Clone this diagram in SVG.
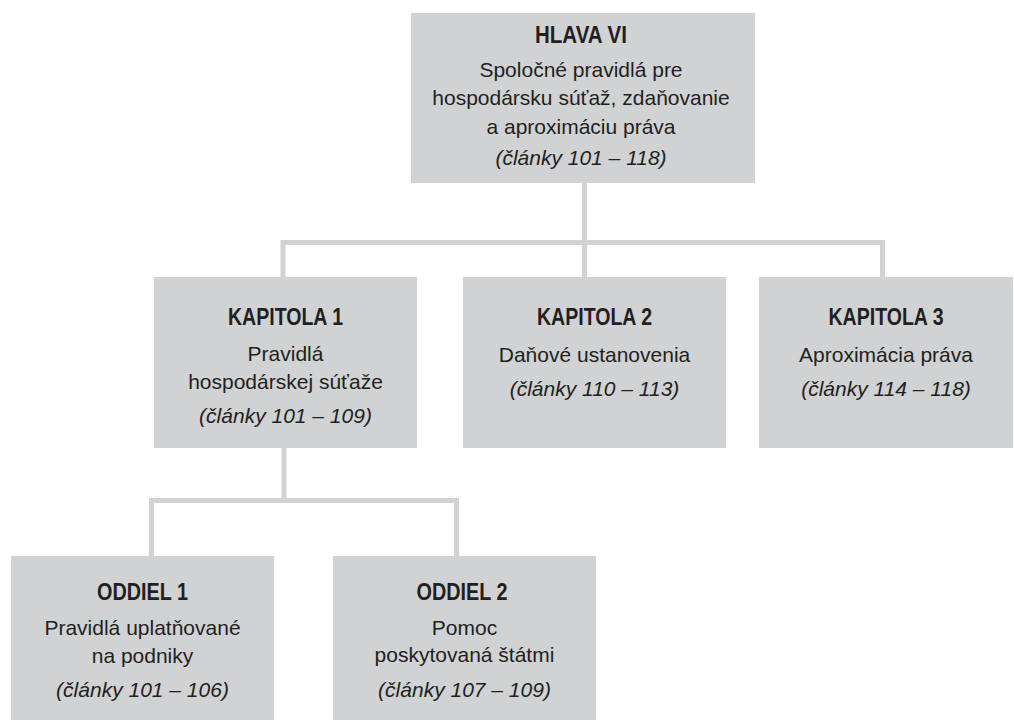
<svg xmlns="http://www.w3.org/2000/svg" width="1014" height="720" viewBox="0 0 1014 720">
<style>
.box{fill:#d1d2d4}
.conn{fill:none;stroke:#d1d2d4;stroke-width:5}
text{font-family:"Liberation Sans",Arial,sans-serif;fill:#231f20;text-anchor:middle}
.t{font-weight:bold;font-size:23.5px}
.r{font-size:21px}
.i{font-size:21px;font-style:italic}
</style>
<rect width="1014" height="720" fill="#ffffff"/>
<g id="connectors">
<path class="conn" d="M584.5 183V242.5M283 277V242.5H882.5V277M584.5 242.5V277"/>
<path class="conn" d="M284 448V500.5M151.5 556V500.5H456.5V556"/>
</g>
<g id="hlava6">
<rect class="box" x="411" y="13" width="344" height="170"/>
<text class="t" x="581" y="42.5" textLength="92" lengthAdjust="spacingAndGlyphs">HLAVA VI</text>
<text class="r" x="581" y="76.5">Spoločné pravidlá pre</text>
<text class="r" x="581" y="105">hospodársku súťaž, zdaňovanie</text>
<text class="r" x="581" y="133.5">a aproximáciu práva</text>
<text class="i" x="581" y="165">(články 101 – 118)</text>
</g>
<g id="kapitola1">
<rect class="box" x="154" y="277" width="263" height="171"/>
<text class="t" x="285.5" y="325" textLength="115" lengthAdjust="spacingAndGlyphs">KAPITOLA 1</text>
<text class="r" x="285.5" y="360.5">Pravidlá</text>
<text class="r" x="285.5" y="388.5">hospodárskej súťaže</text>
<text class="i" x="285.5" y="422.5">(články 101 – 109)</text>
</g>
<g id="kapitola2">
<rect class="box" x="463" y="277" width="263" height="171"/>
<text class="t" x="594.5" y="325" textLength="115" lengthAdjust="spacingAndGlyphs">KAPITOLA 2</text>
<text class="r" x="594.5" y="361.5">Daňové ustanovenia</text>
<text class="i" x="594.5" y="395.5">(články 110 – 113)</text>
</g>
<g id="kapitola3">
<rect class="box" x="759" y="277" width="254" height="171"/>
<text class="t" x="886" y="325" textLength="115" lengthAdjust="spacingAndGlyphs">KAPITOLA 3</text>
<text class="r" x="886" y="361.5">Aproximácia práva</text>
<text class="i" x="886" y="395.5">(články 114 – 118)</text>
</g>
<g id="oddiel1">
<rect class="box" x="11" y="556" width="263" height="164"/>
<text class="t" x="142.5" y="600" textLength="91" lengthAdjust="spacingAndGlyphs">ODDIEL 1</text>
<text class="r" x="142.5" y="635">Pravidlá uplatňované</text>
<text class="r" x="142.5" y="662.5">na podniky</text>
<text class="i" x="142.5" y="697">(články 101 – 106)</text>
</g>
<g id="oddiel2">
<rect class="box" x="333" y="556" width="263" height="164"/>
<text class="t" x="462" y="600" textLength="91" lengthAdjust="spacingAndGlyphs">ODDIEL 2</text>
<text class="r" x="464.5" y="635">Pomoc</text>
<text class="r" x="464.5" y="662">poskytovaná štátmi</text>
<text class="i" x="464.5" y="697">(články 107 – 109)</text>
</g>
</svg>
